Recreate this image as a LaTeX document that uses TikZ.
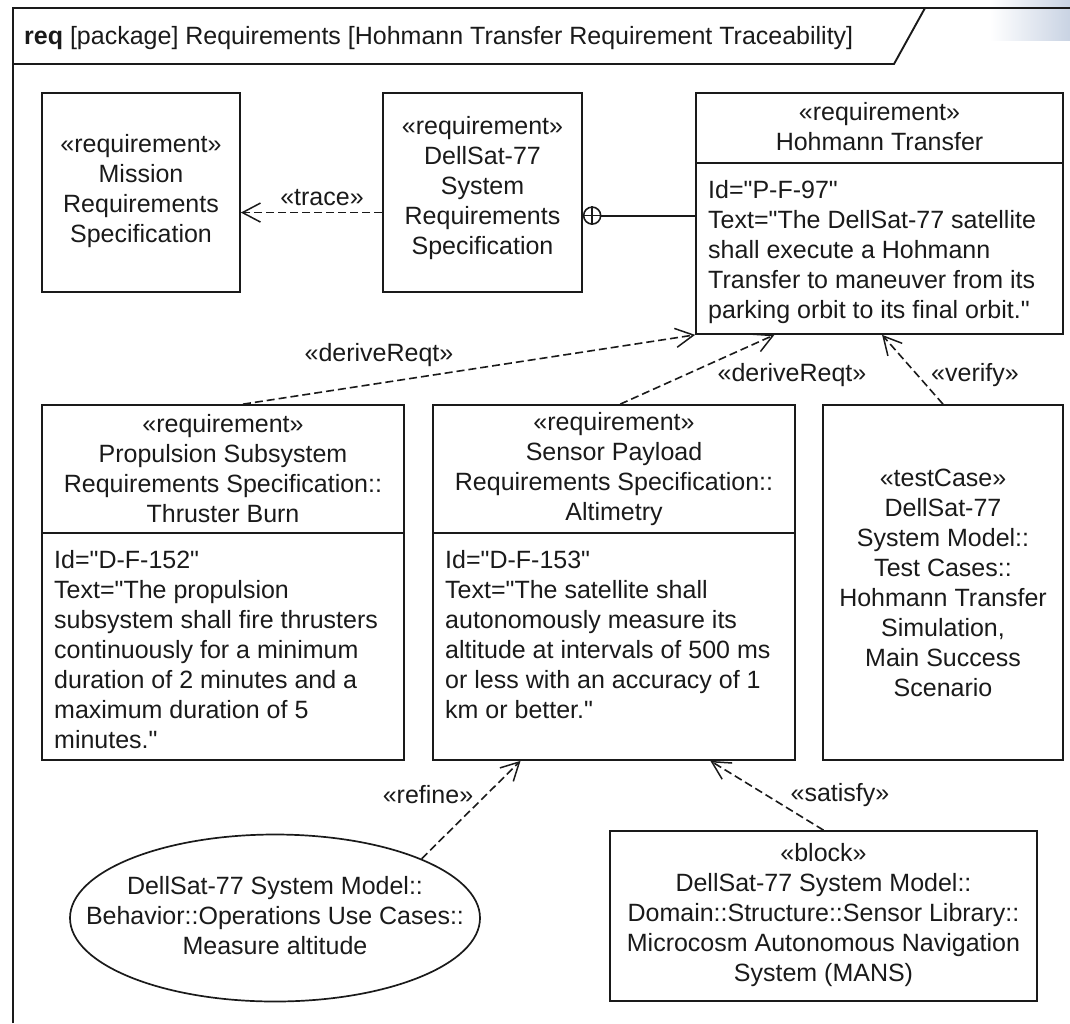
\documentclass[tikz,border=0pt]{standalone}
\usepackage{fontspec}
\setmainfont{Liberation Sans}[Ligatures=TeXOff]
\usetikzlibrary{arrows.meta,calc,shapes.geometric}
\definecolor{ink}{HTML}{1A1A1A}
\definecolor{corner}{HTML}{C9D3E3}
\begin{document}
\begin{tikzpicture}[x=1pt,y=-1pt,
  every node/.style={font=\fontsize{25}{30}\selectfont, text=ink},
  box/.style={draw=ink, line width=1.7pt, rectangle, inner sep=0pt},
  divider/.style={draw=ink, line width=1.7pt},
  framel/.style={draw=ink, line width=1.9pt},
  dep/.style={draw=ink, line width=1.6pt, dash pattern=on 8pt off 4pt,
    -{Straight Barb[length=18pt,width=19pt,line width=1.5pt]}},
  lbl/.style={inner sep=0pt},
  ctext/.style={align=center, inner sep=0pt},
  ltext/.style={align=left, inner sep=0pt, anchor=north west}
]
\useasboundingbox (0,0) rectangle (1070,1023);
% faint screen-corner shading
\shade[left color=white, right color=corner] (990,0) rectangle (1070,40);
% diagram frame
\draw[framel] (13,1023) -- (13,8) -- (1070,8);
\draw[framel] (13,64) -- (894,64) -- (925,8);
\node[lbl, anchor=base west] (title) at (24,44)
  {\textbf{req} [package] Requirements [Hohmann Transfer Requirement Traceability]};

% top row
\node[box, minimum width=198pt, minimum height=199pt] (mission) at (141,192.5) {};
\node[ctext] (missiontxt) at (141,191.5) {«requirement»\\Mission\\Requirements\\Specification};

\node[box, minimum width=199pt, minimum height=199pt] (sysreq) at (482.5,192.5) {};
\node[ctext] (sysreqtxt) at (482.5,188) {«requirement»\\DellSat-77\\System\\Requirements\\Specification};

\node[box, minimum width=367pt, minimum height=241pt] (hoh) at (879.5,213.5) {};
\draw[divider] (hoh.west |- 0,163) -- (hoh.east |- 0,163);
\node[ctext] (hohhead) at (879.5,127) {«requirement»\\Hohmann Transfer};
\node[ltext] (hohbody) at (708,180) {Id="P-F-97"\\Text="The DellSat-77 satellite\\shall execute a Hohmann\\Transfer to maneuver from its\\parking orbit to its final orbit."};

% containment
\node[circle, draw=ink, line width=1.6pt, minimum size=17pt, inner sep=0pt, anchor=west] (plus)
  at ($(sysreq.north east)!0.615!(sysreq.south east)$) {};
\draw[ink, line width=1.5pt] (plus.north) -- (plus.south) (plus.west) -- (plus.east);
\draw[ink, line width=1.9pt] (plus.east) -- (plus.east -| hoh.west);

% trace
\draw[dep] ($(sysreq.north west)!0.6!(sysreq.south west)$) -- ($(mission.north east)!0.6!(mission.south east)$);
\node[lbl] (tracelbl) at (322,198) {«trace»};

% middle row
\node[box, minimum width=362pt, minimum height=355pt] (prop) at (223,582.5) {};
\draw[divider] (prop.west |- 0,533) -- (prop.east |- 0,533);
\node[ctext] (prophead) at (223,469) {«requirement»\\Propulsion Subsystem\\Requirements Specification::\\Thruster Burn};
\node[ltext] (propbody) at (54,550) {Id="D-F-152"\\Text="The propulsion\\subsystem shall fire thrusters\\continuously for a minimum\\duration of 2 minutes and a\\maximum duration of 5\\minutes."};

\node[box, minimum width=362pt, minimum height=355pt] (sensor) at (614,582.5) {};
\draw[divider] (sensor.west |- 0,533) -- (sensor.east |- 0,533);
\node[ctext] (sensorhead) at (614,469) {«requirement»\\Sensor Payload\\Requirements Specification::\\Altimetry};
\node[ltext] (sensorbody) at (445,550) {Id="D-F-153"\\Text="The satellite shall\\autonomously measure its\\altitude at intervals of 500 ms\\or less with an accuracy of 1\\km or better."};

\node[box, minimum width=240pt, minimum height=355pt] (test) at (943,582.5) {};
\node[ctext] (testtxt) at (943,582.5) {«testCase»\\DellSat-77\\System Model::\\Test Cases::\\Hohmann Transfer\\Simulation,\\Main Success\\Scenario};

% bottom row
\node[ellipse, draw=ink, line width=1.7pt, minimum width=410pt, minimum height=167pt, inner sep=0pt] (uc) at (275,918) {};
\node[ctext] (uctxt) at (275,916) {DellSat-77 System Model::\\Behavior::Operations Use Cases::\\Measure altitude};

\node[box, minimum width=427pt, minimum height=170pt] (block) at (823.5,916) {};
\node[ctext] (blocktxt) at (823.5,915) {«block»\\DellSat-77 System Model::\\Domain::Structure::Sensor Library::\\Microcosm Autonomous Navigation\\System (MANS)};

% dependencies
\draw[dep] ($(prop.north west)!0.555!(prop.north east)$) -- (hoh.south west);
\node[lbl] (der1lbl) at (379,355) {«deriveReqt»};
\draw[dep] ($(sensor.north west)!0.517!(sensor.north east)$) -- ($(hoh.south west)!0.215!(hoh.south east)$);
\node[lbl] (der2lbl) at (792,375) {«deriveReqt»};
\draw[dep] (test.north) -- ($(hoh.south west)!0.507!(hoh.south east)$);
\node[lbl] (verlbl) at (975,375) {«verify»};
\draw[dep] (uc.22) -- ($(sensor.south west)!0.243!(sensor.south east)$);
\node[lbl] (reflbl) at (428,795) {«refine»};
\draw[dep] (block.north) -- ($(sensor.south west)!0.765!(sensor.south east)$);
\node[lbl] (satlbl) at (840,795) {«satisfy»};
\end{tikzpicture}
\end{document}
